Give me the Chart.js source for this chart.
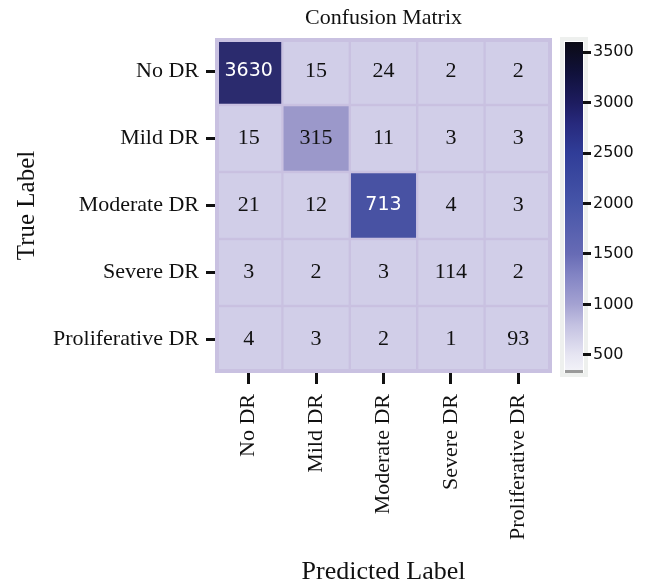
<!DOCTYPE html>
<html>
<head>
<meta charset="utf-8">
<script src="https://cdn.jsdelivr.net/npm/chart.js@4.4.1/dist/chart.umd.min.js"></script>
<style>
  html, body { margin: 0; padding: 0; background: #fff; }
  #wrap { position: relative; width: 646px; height: 586px; }
  #matrix { position: absolute; left: 0; top: 0; }
  #colorbar { position: absolute; left: 540px; top: 0; }
</style>
</head>
<body>
<div id="wrap">
  <canvas id="matrix" width="646" height="586"></canvas>
  <canvas id="colorbar" width="106" height="586"></canvas>
</div>
<script>
// rows = true label, columns = predicted label
const trueLabels = ["No DR", "Mild DR", "Moderate DR", "Severe DR", "Proliferative DR"];
const predLabels = ["No DR", "Mild DR", "Moderate DR", "Severe DR", "Proliferative DR"];
const rowNoDR = [3630, 15, 24, 2, 2];
const rowMild = [15, 315, 11, 3, 3];
const rowModerate = [21, 12, 713, 4, 3];
const rowSevere = [3, 2, 3, 114, 2];
const rowProlif = [4, 3, 2, 1, 93];
const matrixRows = [rowNoDR, rowMild, rowModerate, rowSevere, rowProlif];

const colorbarTicks = [500, 1000, 1500, 2000, 2500, 3000, 3500];
const colorbarRange = [330, 3600];

const serif = "'Liberation Serif', 'Times New Roman', serif";
const sans = "'DejaVu Sans', Verdana, sans-serif";
const gapColor = "#c9c1e1";

// colours picked off the cells
const cellStops = [[0, "#d1cee8"], [150, "#d1cee8"], [315, "#9b98ca"], [713, "#4852a3"], [3630, "#2b2b6e"]];
// colours picked off the colour bar
const barStops = [[330, "#f3f3f8"], [500, "#e6e5f2"], [800, "#c3c1e1"], [1000, "#a4a2d2"],
  [1300, "#8183c3"], [1500, "#676bb5"], [2000, "#4655a8"], [2500, "#303d98"],
  [2800, "#27297c"], [3000, "#1d1c5f"], [3300, "#10113a"], [3600, "#0b0b15"]];

function hexRgb(h) {
  return [1, 3, 5].map(i => parseInt(h.slice(i, i + 2), 16));
}
function colourFor(v, stops) {
  if (v <= stops[0][0]) return stops[0][1];
  for (let i = 1; i < stops.length; i++) {
    if (v <= stops[i][0]) {
      const t = (v - stops[i - 1][0]) / (stops[i][0] - stops[i - 1][0]);
      const a = hexRgb(stops[i - 1][1]), b = hexRgb(stops[i][1]);
      const c = a.map((x, k) => Math.round(x + (b[k] - x) * t));
      return `rgb(${c[0]},${c[1]},${c[2]})`;
    }
  }
  return stops[stops.length - 1][1];
}

const datasets = matrixRows.map((row, r) => ({
  label: trueLabels[r],
  data: row.map(() => [r, r + 1]),
  counts: row,
  backgroundColor: row.map(v => colourFor(v, cellStops)),
  borderColor: gapColor,
  borderWidth: 1.5,
  borderSkipped: false,
  barPercentage: 1,
  categoryPercentage: 1,
  grouped: false
}));

const plotBackground = {
  id: "plotBackground",
  beforeDatasetsDraw(chart) {
    const { ctx, chartArea: a } = chart;
    ctx.save();
    ctx.fillStyle = gapColor;
    ctx.fillRect(a.left, a.top, a.right - a.left, a.bottom - a.top);
    ctx.restore();
  },
  afterDatasetsDraw(chart) {
    const { ctx, chartArea: a } = chart;
    ctx.save();
    ctx.strokeStyle = gapColor;
    ctx.lineWidth = 4;
    ctx.strokeRect(a.left + 2, a.top + 2, a.right - a.left - 4, a.bottom - a.top - 4);
    ctx.restore();
  }
};

const cellText = {
  id: "cellText",
  afterDatasetsDraw(chart) {
    const ctx = chart.ctx;
    ctx.save();
    ctx.textAlign = "center";
    ctx.textBaseline = "middle";
    chart.data.datasets.forEach((ds, i) => {
      chart.getDatasetMeta(i).data.forEach((el, j) => {
        const v = ds.counts[j];
        const dark = v > 500;
        ctx.fillStyle = dark ? "#ffffff" : "#111111";
        ctx.font = dark ? `19px ${sans}` : `22px ${serif}`;
        ctx.fillText(String(v), el.x, (el.y + el.base) / 2);
      });
    });
    ctx.restore();
  }
};

new Chart(document.getElementById("matrix"), {
  type: "bar",
  data: { labels: predLabels, datasets: datasets },
  options: {
    responsive: false,
    animation: false,
    layout: { padding: { left: 0, right: 94, top: 0, bottom: 0 } },
    plugins: {
      legend: { display: false },
      tooltip: { enabled: false },
      title: {
        display: true,
        text: "Confusion Matrix",
        fullSize: false,
        color: "#111",
        font: { family: serif, size: 22, weight: "normal" },
        padding: { top: 5, bottom: 6.6 }
      }
    },
    scales: {
      x: {
        afterFit(scale) { scale.height = 213; },
        grid: { offset: false, drawOnChartArea: false, drawTicks: true, tickLength: 11, tickWidth: 3, tickColor: "#111", color: "rgba(0,0,0,0)" },
        border: { display: false },
        ticks: { minRotation: 90, maxRotation: 90, padding: 10, color: "#111", font: { family: serif, size: 22 } },
        title: { display: true, text: "Predicted Label", color: "#111", font: { family: serif, size: 26 }, padding: { top: 0, bottom: -2 } }
      },
      y: {
        min: 0,
        max: trueLabels.length,
        reverse: true,
        afterFit(scale) { scale.width = 215; },
        afterBuildTicks(scale) { scale.ticks = trueLabels.map((_, i) => ({ value: i + 0.5 })); },
        grid: { drawOnChartArea: false, drawTicks: true, tickLength: 9, tickWidth: 3, tickColor: "#111", color: "rgba(0,0,0,0)" },
        border: { display: false },
        ticks: {
          padding: 7,
          color: "#111",
          font: { family: serif, size: 22 },
          callback: v => trueLabels[Math.floor(v)]
        },
        title: { display: true, text: "True Label", color: "#111", font: { family: serif, size: 25 }, padding: { top: 12, bottom: 0 } }
      }
    }
  },
  plugins: [plotBackground, cellText]
});

const colorbarFrame = {
  id: "colorbarFrame",
  beforeDraw(chart) {
    const { ctx, chartArea: a } = chart;
    ctx.save();
    ctx.strokeStyle = "#eef0ee";
    ctx.lineWidth = 4;
    ctx.strokeRect(a.left - 3, a.top - 3, a.right - a.left + 6, a.bottom - a.top + 6);
    ctx.restore();
  },
  afterDatasetsDraw(chart) {
    const { ctx, chartArea: a } = chart;
    ctx.save();
    ctx.fillStyle = "#9a9a9a";
    ctx.fillRect(a.left, a.bottom - 2, a.right - a.left, 3);
    ctx.restore();
  }
};

new Chart(document.getElementById("colorbar"), {
  type: "bar",
  data: {
    labels: ["scale"],
    datasets: [{
      data: [colorbarRange],
      barPercentage: 1,
      categoryPercentage: 1,
      borderWidth: 0,
      backgroundColor(ctx) {
        const chart = ctx.chart;
        const a = chart.chartArea;
        if (!a) return "#888";
        const yScale = chart.scales.y;
        const g = chart.ctx.createLinearGradient(0, a.bottom, 0, a.top);
        const span = a.bottom - a.top;
        barStops.forEach(([v, c]) => {
          const t = (a.bottom - yScale.getPixelForValue(v)) / span;
          g.addColorStop(Math.min(1, Math.max(0, t)), c);
        });
        return g;
      }
    }]
  },
  options: {
    responsive: false,
    animation: false,
    layout: { padding: { left: 25, right: 0, top: 42, bottom: 214 } },
    plugins: { legend: { display: false }, tooltip: { enabled: false } },
    scales: {
      x: { display: false },
      y: {
        position: "right",
        min: colorbarRange[0],
        max: colorbarRange[1],
        afterFit(scale) { scale.width = 63; },
        afterBuildTicks(scale) { scale.ticks = colorbarTicks.map(v => ({ value: v })); },
        grid: { drawOnChartArea: false, drawTicks: true, tickLength: 8, tickWidth: 3, tickColor: "#111", color: "rgba(0,0,0,0)" },
        border: { display: false },
        ticks: { padding: 2, color: "#111", font: { family: sans, size: 16 }, callback: v => String(v) }
      }
    }
  },
  plugins: [colorbarFrame]
});
</script>
</body>
</html>
